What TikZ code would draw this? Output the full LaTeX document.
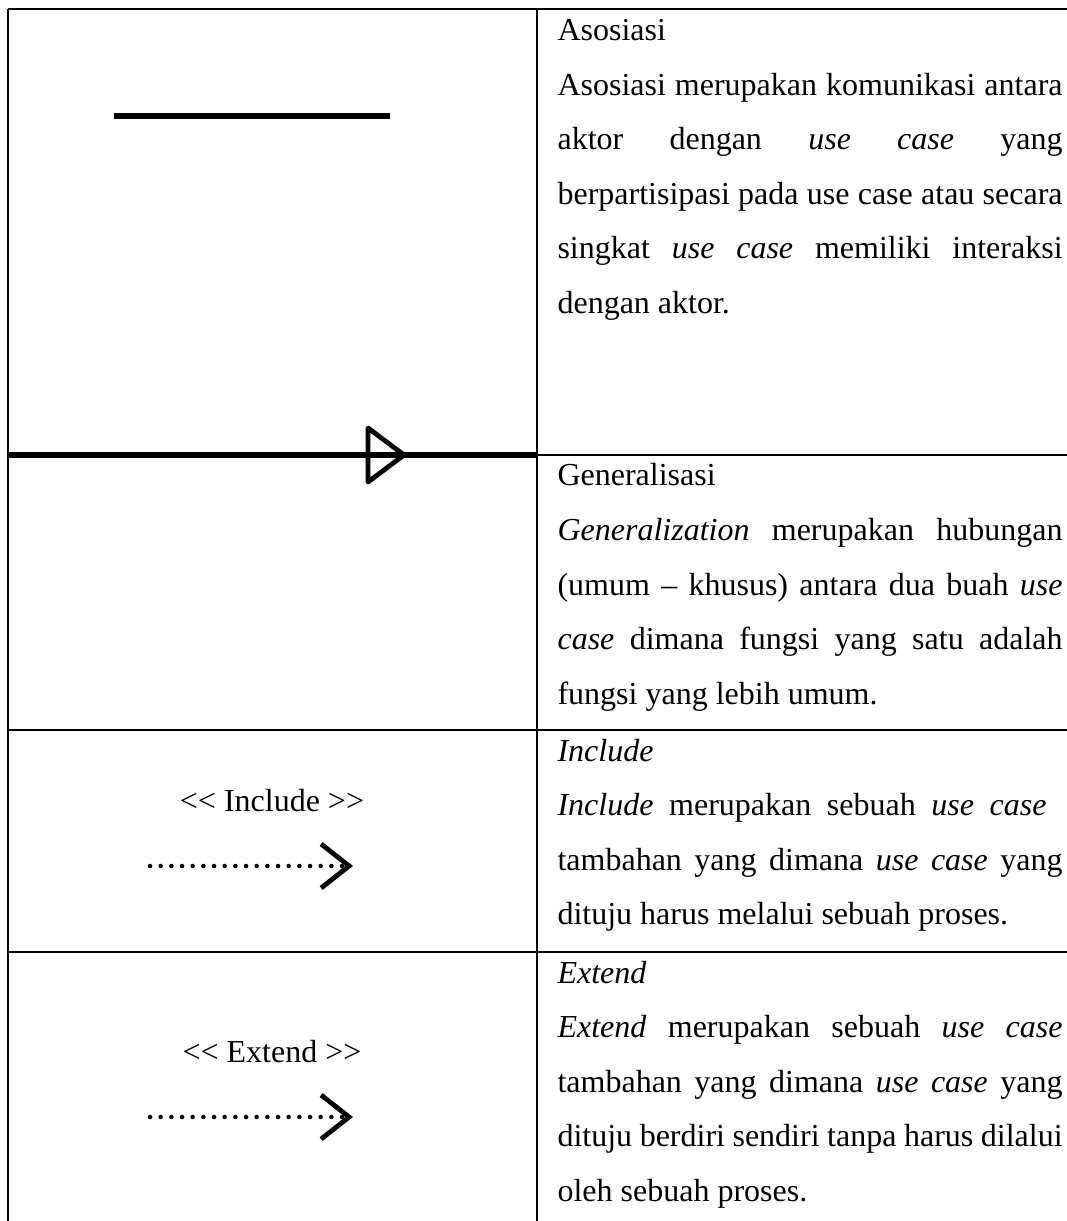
\documentclass[tikz,border=0pt]{standalone}
\usepackage{fontspec}
\setmainfont{Liberation Serif}
\usetikzlibrary{arrows.meta}
\def\fullline#1{\makebox[189.4pt][s]{#1}}
\def\stereo#1{\textless\kern0pt\textless\ #1 \textgreater\kern0pt\textgreater}

\begin{document}
\begin{tikzpicture}[x=0.375pt, y=-0.375pt, font=\fontsize{12}{14.4}\selectfont,
  grid line/.style={line width=0.75pt},
  uml line/.style={line width=2pt},
  cell text/.style={anchor=base west, inner sep=0pt},
  stereo text/.style={anchor=base, inner sep=0pt},
  dots line/.style={line width=1.7pt, line cap=round, dash pattern=on 0pt off 4pt,
    -{Straight Barb[length=10.5pt, width=16.5pt, line width=1.8pt]}}]
			%%%%% START %%%%%
			\useasboundingbox (0, 0) rectangle (1066, 1221);
			
			% table
			\draw[grid line] (8, 9) -- (1070, 9);
			\draw[grid line] (8, 9) -- (8, 1225);
			\draw[grid line] (537, 9) -- (537, 1225);
			\draw[grid line] (537, 455) -- (1070, 455);
			\draw[grid line] (8, 730) -- (1070, 730);
			\draw[grid line] (8, 952) -- (1070, 952);
			
			% asosiasi
			\draw[uml line] (114, 116) -- (390, 116);
			
			% generalisasi
			\draw[uml line] (8, 455) -- (537, 455);
			\draw[line width=1.8pt, line join=round] (368, 428) -- (404, 455) -- (368, 482) -- cycle;
			
			% include
			\node[stereo text] (incLabel) at (272, 811) {\stereo{Include}};
			\coordinate (incTail) at (150, 866);
			\coordinate (incHead) at (353, 866);
			\draw[dots line] (incTail) -- (incHead);
			
			% extend
			\node[stereo text] (extLabel) at (272, 1062) {\stereo{Extend}};
			\coordinate (extTail) at (150, 1117);
			\coordinate (extHead) at (353, 1117);
			\draw[dots line] (extTail) -- (extHead);
			
			% keterangan
			\node[cell text] (asoTitle) at (557, 41) {Asosiasi};
			\node[cell text] (asoA) at (557, 95.5) {\fullline{Asosiasi merupakan komunikasi antara}};
			\node[cell text] (asoB) at (557, 150) {\fullline{aktor dengan \textit{use} \textit{case} yang}};
			\node[cell text] (asoC) at (557, 204.5) {\fullline{berpartisipasi pada use case atau secara}};
			\node[cell text] (asoD) at (557, 259) {\fullline{singkat \textit{use} \textit{case} memiliki interaksi}};
			\node[cell text] (asoE) at (557, 313.5) {dengan aktor.};
			
			\node[cell text] (genTitle) at (557, 486) {Generalisasi};
			\node[cell text] (genA) at (557, 540.5) {\fullline{\textit{Generalization} merupakan hubungan}};
			\node[cell text] (genB) at (557, 595) {\fullline{(umum – khusus) antara dua buah \textit{use}}};
			\node[cell text] (genC) at (557, 649.5) {\fullline{\textit{case} dimana fungsi yang satu adalah}};
			\node[cell text] (genD) at (557, 704) {fungsi yang lebih umum.};
			
			\node[cell text] (incTitle) at (557, 761) {\textit{Include}};
			\node[cell text] (incA) at (557, 815.5) {\fullline{\textit{Include} merupakan sebuah \textit{use} \textit{case}\hspace*{6pt}}};
			\node[cell text] (incB) at (557, 870) {\fullline{tambahan yang dimana \textit{use case} yang}};
			\node[cell text] (incC) at (557, 924.5) {dituju harus melalui sebuah proses.};
			
			\node[cell text] (extTitle) at (557, 983) {\textit{Extend}};
			\node[cell text] (extA) at (557, 1037.5) {\fullline{\textit{Extend} merupakan sebuah \textit{use} \textit{case}}};
			\node[cell text] (extB) at (557, 1092) {\fullline{tambahan yang dimana \textit{use case} yang}};
			\node[cell text] (extC) at (557, 1146.5) {\fullline{dituju berdiri sendiri tanpa harus dilalui}};
			\node[cell text] (extD) at (557, 1201) {oleh sebuah proses.};
			%%%%% END %%%%%
\end{tikzpicture}
\end{document}
